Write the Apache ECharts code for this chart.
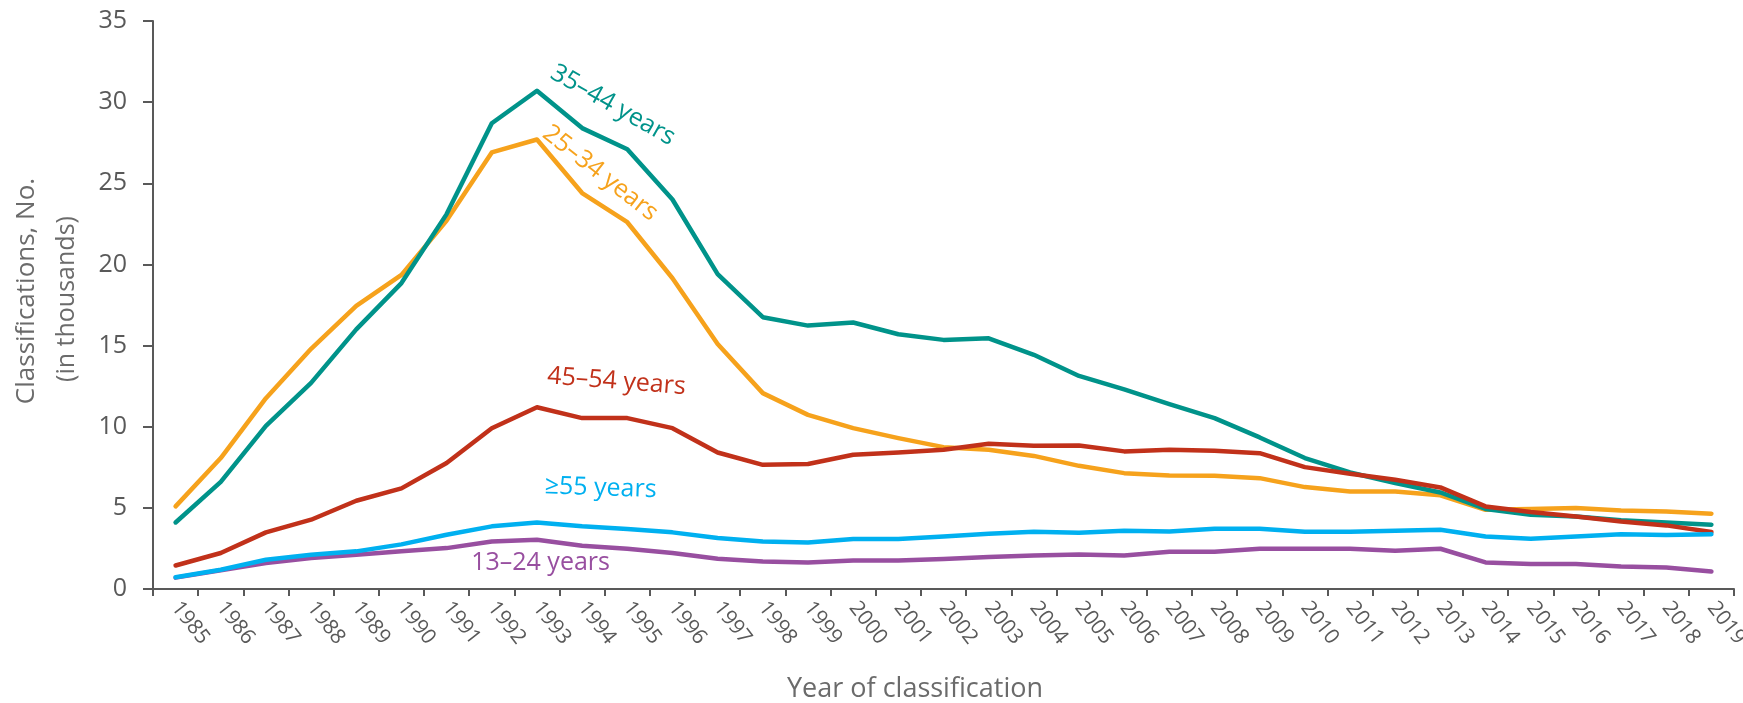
<!DOCTYPE html>
<html>
<head>
<meta charset="utf-8">
<script src="https://cdn.jsdelivr.net/npm/echarts@6/dist/echarts.min.js"></script>
<style>html,body{margin:0;padding:0;background:#fff}#c{width:1743px;height:703px}</style>
</head>
<body>
<div id="c"></div>
<script>
const years = ['1985','1986','1987','1988','1989','1990','1991','1992','1993','1994','1995','1996','1997','1998','1999','2000','2001','2002','2003','2004','2005','2006','2007','2008','2009','2010','2011','2012','2013','2014','2015','2016','2017','2018','2019'];
const age13_24 = [0.7,1.15,1.6,1.91,2.11,2.32,2.52,2.93,3.04,2.67,2.48,2.22,1.87,1.7,1.64,1.76,1.76,1.85,1.97,2.07,2.13,2.07,2.3,2.3,2.48,2.48,2.48,2.36,2.48,1.64,1.54,1.54,1.39,1.33,1.08];
const age25_34 = [5.09,8.07,11.76,14.8,17.44,19.35,22.7,26.9,27.7,24.4,22.6,19.15,15.1,12.07,10.73,9.91,9.3,8.74,8.58,8.2,7.59,7.14,7.0,6.98,6.83,6.28,6.01,6.01,5.77,4.88,4.93,4.99,4.84,4.78,4.64];
const age35_44 = [4.1,6.6,10.05,12.7,16.0,18.85,23.1,28.7,30.7,28.4,27.1,24.0,19.4,16.75,16.23,16.42,15.7,15.35,15.45,14.43,13.13,12.3,11.39,10.53,9.34,8.07,7.18,6.53,5.95,4.93,4.58,4.47,4.23,4.1,3.96];
const age45_54 = [1.45,2.22,3.49,4.27,5.44,6.2,7.76,9.91,11.2,10.53,10.53,9.91,8.41,7.65,7.7,8.27,8.41,8.58,8.95,8.82,8.84,8.48,8.58,8.52,8.37,7.51,7.1,6.73,6.26,5.09,4.74,4.47,4.16,3.92,3.51];
const age55plus = [0.72,1.19,1.8,2.11,2.32,2.75,3.34,3.86,4.1,3.86,3.69,3.49,3.14,2.93,2.87,3.08,3.08,3.24,3.41,3.53,3.47,3.59,3.55,3.71,3.71,3.53,3.53,3.59,3.65,3.24,3.1,3.24,3.38,3.32,3.38];

const seriesNames = ['13–24 years','25–34 years','35–44 years','45–54 years','≥55 years'];
const seriesColors = ['#984FA0','#F6A21C','#00938A','#C1311A','#00B0F0'];
// annotation label anchors: [category index (fractional), value], rotation in degrees
const labelAnchors = [[8.08,1.6],[9.40,25.62],[9.68,29.81],[9.76,12.78],[9.41,6.22]];
const labelRotations = [0,-38,-29.5,-4.5,-2];

const FONT = '"Open Sans", "Noto Sans", sans-serif';
const chart = echarts.init(document.getElementById('c'), null, {renderer:'canvas'});
const dataSets = [age13_24, age25_34, age35_44, age45_54, age55plus];

const option = {
  animation: false,
  backgroundColor: '#fff',
  grid: {left:153, right:9, top:21, bottom:114, containLabel:false, outerBoundsMode:'none'},
  xAxis: {
    type: 'category', data: years, boundaryGap: true,
    axisLine: {show:true, lineStyle:{color:'#595959', width:2}},
    axisTick: {show:true, length:7, alignWithLabel:false, interval:0, lineStyle:{color:'#595959', width:2}},
    axisLabel: {interval:0, rotate:-52, margin:15, fontSize:21, color:'#595959', fontFamily:FONT},
    splitLine: {show:false}
  },
  yAxis: {
    type: 'value', min:0, max:35, interval:5,
    axisLine: {show:true, lineStyle:{color:'#595959', width:2}},
    axisTick: {show:true, length:10, lineStyle:{color:'#595959', width:2}},
    axisLabel: {margin:26, fontSize:25, color:'#595959', fontFamily:FONT},
    splitLine: {show:false}
  },
  series: seriesNames.map((n,i)=>({
    name:n, type:'line', data:dataSets[i], symbol:'none', smooth:false,
    lineStyle:{color:seriesColors[i], width:4.5, cap:'round', join:'round'},
    itemStyle:{color:seriesColors[i]}, z: 2+i
  }))
};
chart.setOption(option);

function px(idx, val){
  const i0 = Math.floor(idx), f = idx - i0;
  const a = chart.convertToPixel({gridIndex:0},[i0,val]);
  const b = chart.convertToPixel({gridIndex:0},[i0+1,val]);
  return [a[0]+(b[0]-a[0])*f, a[1]];
}
function txt(text, x, y, rotDeg, color, size){
  return {type:'text', x:x, y:y, rotation: rotDeg*Math.PI/180, z:100,
    style:{text:text, x:0, y:0, fill:color, font: size+'px '+FONT,
      align:'center', verticalAlign:'middle', textAlign:'center', textVerticalAlign:'middle'}};
}
const graphics = seriesNames.map((n,i)=>{
  const p = px(labelAnchors[i][0], labelAnchors[i][1]);
  return txt(n, p[0], p[1], labelRotations[i], seriesColors[i], 25);
});
graphics.push(txt('Year of classification', 915, 689, 0, '#6b6b6b', 27));
graphics.push(txt('Classifications, No.', 27, 291, 90, '#6b6b6b', 26));
graphics.push(txt('(in thousands)', 67, 299, 90, '#6b6b6b', 25));
chart.setOption({graphic: graphics});
</script>
</body>
</html>
